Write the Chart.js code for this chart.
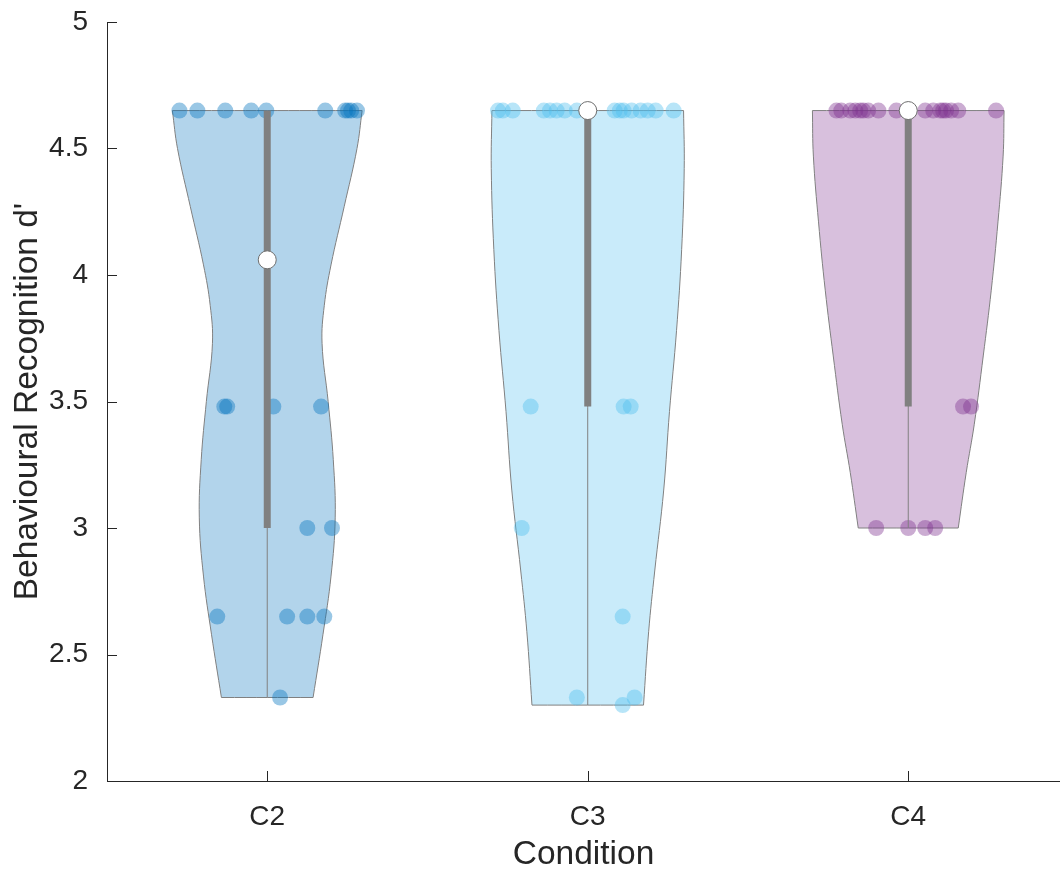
<!DOCTYPE html>
<html lang="en">
<head>
<meta charset="UTF-8">
<title>Behavioural Recognition d'</title>
<script src="https://cdn.jsdelivr.net/npm/chart.js@4.4.0/dist/chart.umd.min.js"></script>
<style>
  html, body { margin: 0; background: #fff; }
  #wrap { width: 1060px; height: 870px; }
</style>
</head>
<body>
<div id="wrap"><canvas id="myChart"></canvas></div>
<script>
const categories = ['C2', 'C3', 'C4'];
const yTicks = [2, 2.5, 3, 3.5, 4, 4.5, 5];

// single subject d' values + horizontal jitter (category units)
const c2Values = [4.65, 4.65, 4.65, 4.65, 4.65, 4.65, 4.65, 4.65, 4.65, 4.65,
                  3.48, 3.48, 3.48, 3.48, 3.0, 3.0, 2.65, 2.65, 2.65, 2.65, 2.33];
const c2Jitter = [-0.274, -0.218, -0.131, -0.050, -0.003, 0.181, 0.243, 0.252, 0.262, 0.280,
                  -0.134, -0.125, 0.019, 0.168, 0.125, 0.202, -0.156, 0.062, 0.125, 0.178, 0.040];

const c3Values = [4.65, 4.65, 4.65, 4.65, 4.65, 4.65, 4.65, 4.65, 4.65, 4.65, 4.65, 4.65, 4.65, 4.65, 4.65, 4.65,
                  3.48, 3.48, 3.48, 3.0, 2.65, 2.33, 2.33, 2.30];
const c3Jitter = [-0.280, -0.265, -0.234, -0.137, -0.118, -0.097, -0.072, -0.034, 0.084, 0.100, 0.112, 0.137, 0.165, 0.187, 0.212, 0.268,
                  -0.178, 0.112, 0.134, -0.206, 0.109, -0.034, 0.146, 0.109];

const c4Values = [4.65, 4.65, 4.65, 4.65, 4.65, 4.65, 4.65, 4.65, 4.65, 4.65, 4.65, 4.65, 4.65, 4.65, 4.65, 4.65, 4.65,
                  3.48, 3.48, 3.0, 3.0, 3.0, 3.0];
const c4Jitter = [-0.224, -0.209, -0.181, -0.165, -0.150, -0.140, -0.125, -0.093, -0.037, 0.053, 0.078, 0.100, 0.109, 0.118, 0.134, 0.156, 0.274,
                  0.171, 0.196, -0.100, 0.0, 0.053, 0.084];

// violin outlines: y level and half width of the density there
const c2Levels = [4.65, 4.50, 4.27, 4.04, 3.88, 3.73, 3.50, 3.27, 3.04, 2.81, 2.58, 2.33];
const c2Width  = [0.296, 0.280, 0.240, 0.199, 0.178, 0.171, 0.190, 0.206, 0.212, 0.199, 0.174, 0.143];
const c3Levels = [4.65, 4.42, 4.10, 3.78, 3.46, 3.15, 2.83, 2.59, 2.30];
const c3Width  = [0.299, 0.301, 0.293, 0.277, 0.255, 0.237, 0.209, 0.190, 0.174];
const c4Levels = [4.65, 4.47, 4.21, 3.94, 3.68, 3.41, 3.22, 3.00];
const c4Width  = [0.299, 0.296, 0.280, 0.259, 0.234, 0.206, 0.181, 0.156];

// summary stats per condition
const medians = [4.06, 4.65, 4.65];
const q1 = [3.0, 3.48, 3.48];
const q3 = [4.65, 4.65, 4.65];
const lows = [2.33, 2.30, 3.0];
const highs = [4.65, 4.65, 4.65];

const colors = [[0, 114, 189], [77, 190, 238], [126, 47, 142]];
const axisColor = '#262626';
const grey = '#808080';
const font = "'Liberation Sans', Arial, Helvetica, sans-serif";

const values = [c2Values, c3Values, c4Values];
const jitter = [c2Jitter, c3Jitter, c4Jitter];
const levels = [c2Levels, c3Levels, c4Levels];
const widths = [c2Width, c3Width, c4Width];

function rgba(c, a) { return 'rgba(' + c.join(',') + ',' + a + ')'; }

// closed outline, corners doubled so the curve keeps the flat top/bottom
function violinPath(center, lv, hw) {
  const left = lv.map((y, i) => ({x: center - hw[i], y: y}));
  const right = lv.map((y, i) => ({x: center + hw[i], y: y})).reverse();
  const n = left.length;
  return [left[0], ...left, left[n - 1], right[0], ...right, right[n - 1], left[0]];
}

const datasets = [];
categories.forEach((cat, i) => {
  const c = i + 1;
  datasets.push({
    type: 'line', label: cat + ' violin',
    data: violinPath(c, levels[i], widths[i]),
    fill: 'shape', backgroundColor: rgba(colors[i], 0.3),
    borderColor: grey, borderWidth: 1, tension: 0.4,
    pointRadius: 0, order: 5
  });
  datasets.push({
    type: 'scatter', label: cat + ' data',
    data: values[i].map((v, k) => ({x: c + jitter[i][k], y: v})),
    backgroundColor: rgba(colors[i], 0.4), borderWidth: 0,
    pointRadius: 8, order: 4
  });
  datasets.push({
    type: 'line', label: cat + ' whisker',
    data: [{x: c, y: lows[i]}, {x: c, y: highs[i]}],
    borderColor: grey, borderWidth: 1, pointRadius: 0, fill: false, order: 3
  });
  datasets.push({
    type: 'line', label: cat + ' box',
    data: [{x: c, y: q1[i]}, {x: c, y: q3[i]}],
    borderColor: grey, borderWidth: 7, borderCapStyle: 'butt',
    pointRadius: 0, fill: false, order: 2
  });
});
datasets.push({
  type: 'scatter', label: 'median',
  data: medians.map((m, i) => ({x: i + 1, y: m})),
  backgroundColor: '#ffffff', borderColor: '#6e6e6e', borderWidth: 1,
  pointRadius: 9, order: 1
});

// matlab style ticks pointing into the axes
const innerTicks = {
  id: 'innerTicks',
  beforeDatasetsDraw(chart) {
    const {ctx, scales: {x, y}} = chart;
    ctx.save();
    ctx.strokeStyle = axisColor;
    ctx.lineWidth = 1;
    ctx.beginPath();
    y.ticks.forEach(t => {
      const py = Math.round(y.getPixelForValue(t.value)) + 0.5;
      ctx.moveTo(y.right, py); ctx.lineTo(y.right + 10, py);
    });
    x.ticks.forEach(t => {
      const px = Math.round(x.getPixelForValue(t.value)) + 0.5;
      ctx.moveTo(px, x.top); ctx.lineTo(px, x.top - 10);
    });
    ctx.stroke();
    ctx.restore();
  }
};

const ctx = document.getElementById('myChart').getContext('2d');
const myChart = new Chart(ctx, {
  type: 'scatter',
  data: { datasets: datasets },
  plugins: [innerTicks],
  options: {
    responsive: true,
    maintainAspectRatio: false,
    animation: false,
    layout: { autoPadding: false, padding: { top: 22, right: 0, bottom: 0, left: 0 } },
    plugins: { legend: { display: false }, tooltip: { enabled: false } },
    scales: {
      x: {
        type: 'linear', min: 0.5, max: 3.4735,
        afterBuildTicks: axis => { axis.ticks = categories.map((c, i) => ({value: i + 1})); },
        afterFit: axis => { axis.height = 89; axis.paddingLeft = 0; axis.paddingRight = 0; },
        grid: { display: false, drawTicks: false },
        border: { display: true, color: axisColor, width: 1 },
        ticks: {
          color: axisColor, padding: 19, maxRotation: 0, autoSkip: false,
          font: { family: font, size: 28 },
          callback: v => categories[v - 1]
        },
        title: {
          display: true, text: 'Condition', color: axisColor,
          font: { family: font, size: 33.5, lineHeight: 1 },
          padding: { top: 0, bottom: -2 }
        }
      },
      y: {
        type: 'linear', min: 2, max: 5,
        afterBuildTicks: axis => { axis.ticks = yTicks.map(v => ({value: v})); },
        afterFit: axis => { axis.width = 107; axis.paddingTop = 0; axis.paddingBottom = 0; },
        grid: { display: false, drawTicks: false },
        border: { display: true, color: axisColor, width: 1 },
        ticks: {
          color: axisColor, padding: 19,
          font: { family: font, size: 28 },
          callback: v => String(v)
        },
        title: {
          display: true, text: "Behavioural Recognition d'", color: axisColor,
          font: { family: font, size: 33.5, lineHeight: 1 },
          padding: { top: 11, bottom: 0 }
        }
      }
    }
  }
});
</script>
</body>
</html>
